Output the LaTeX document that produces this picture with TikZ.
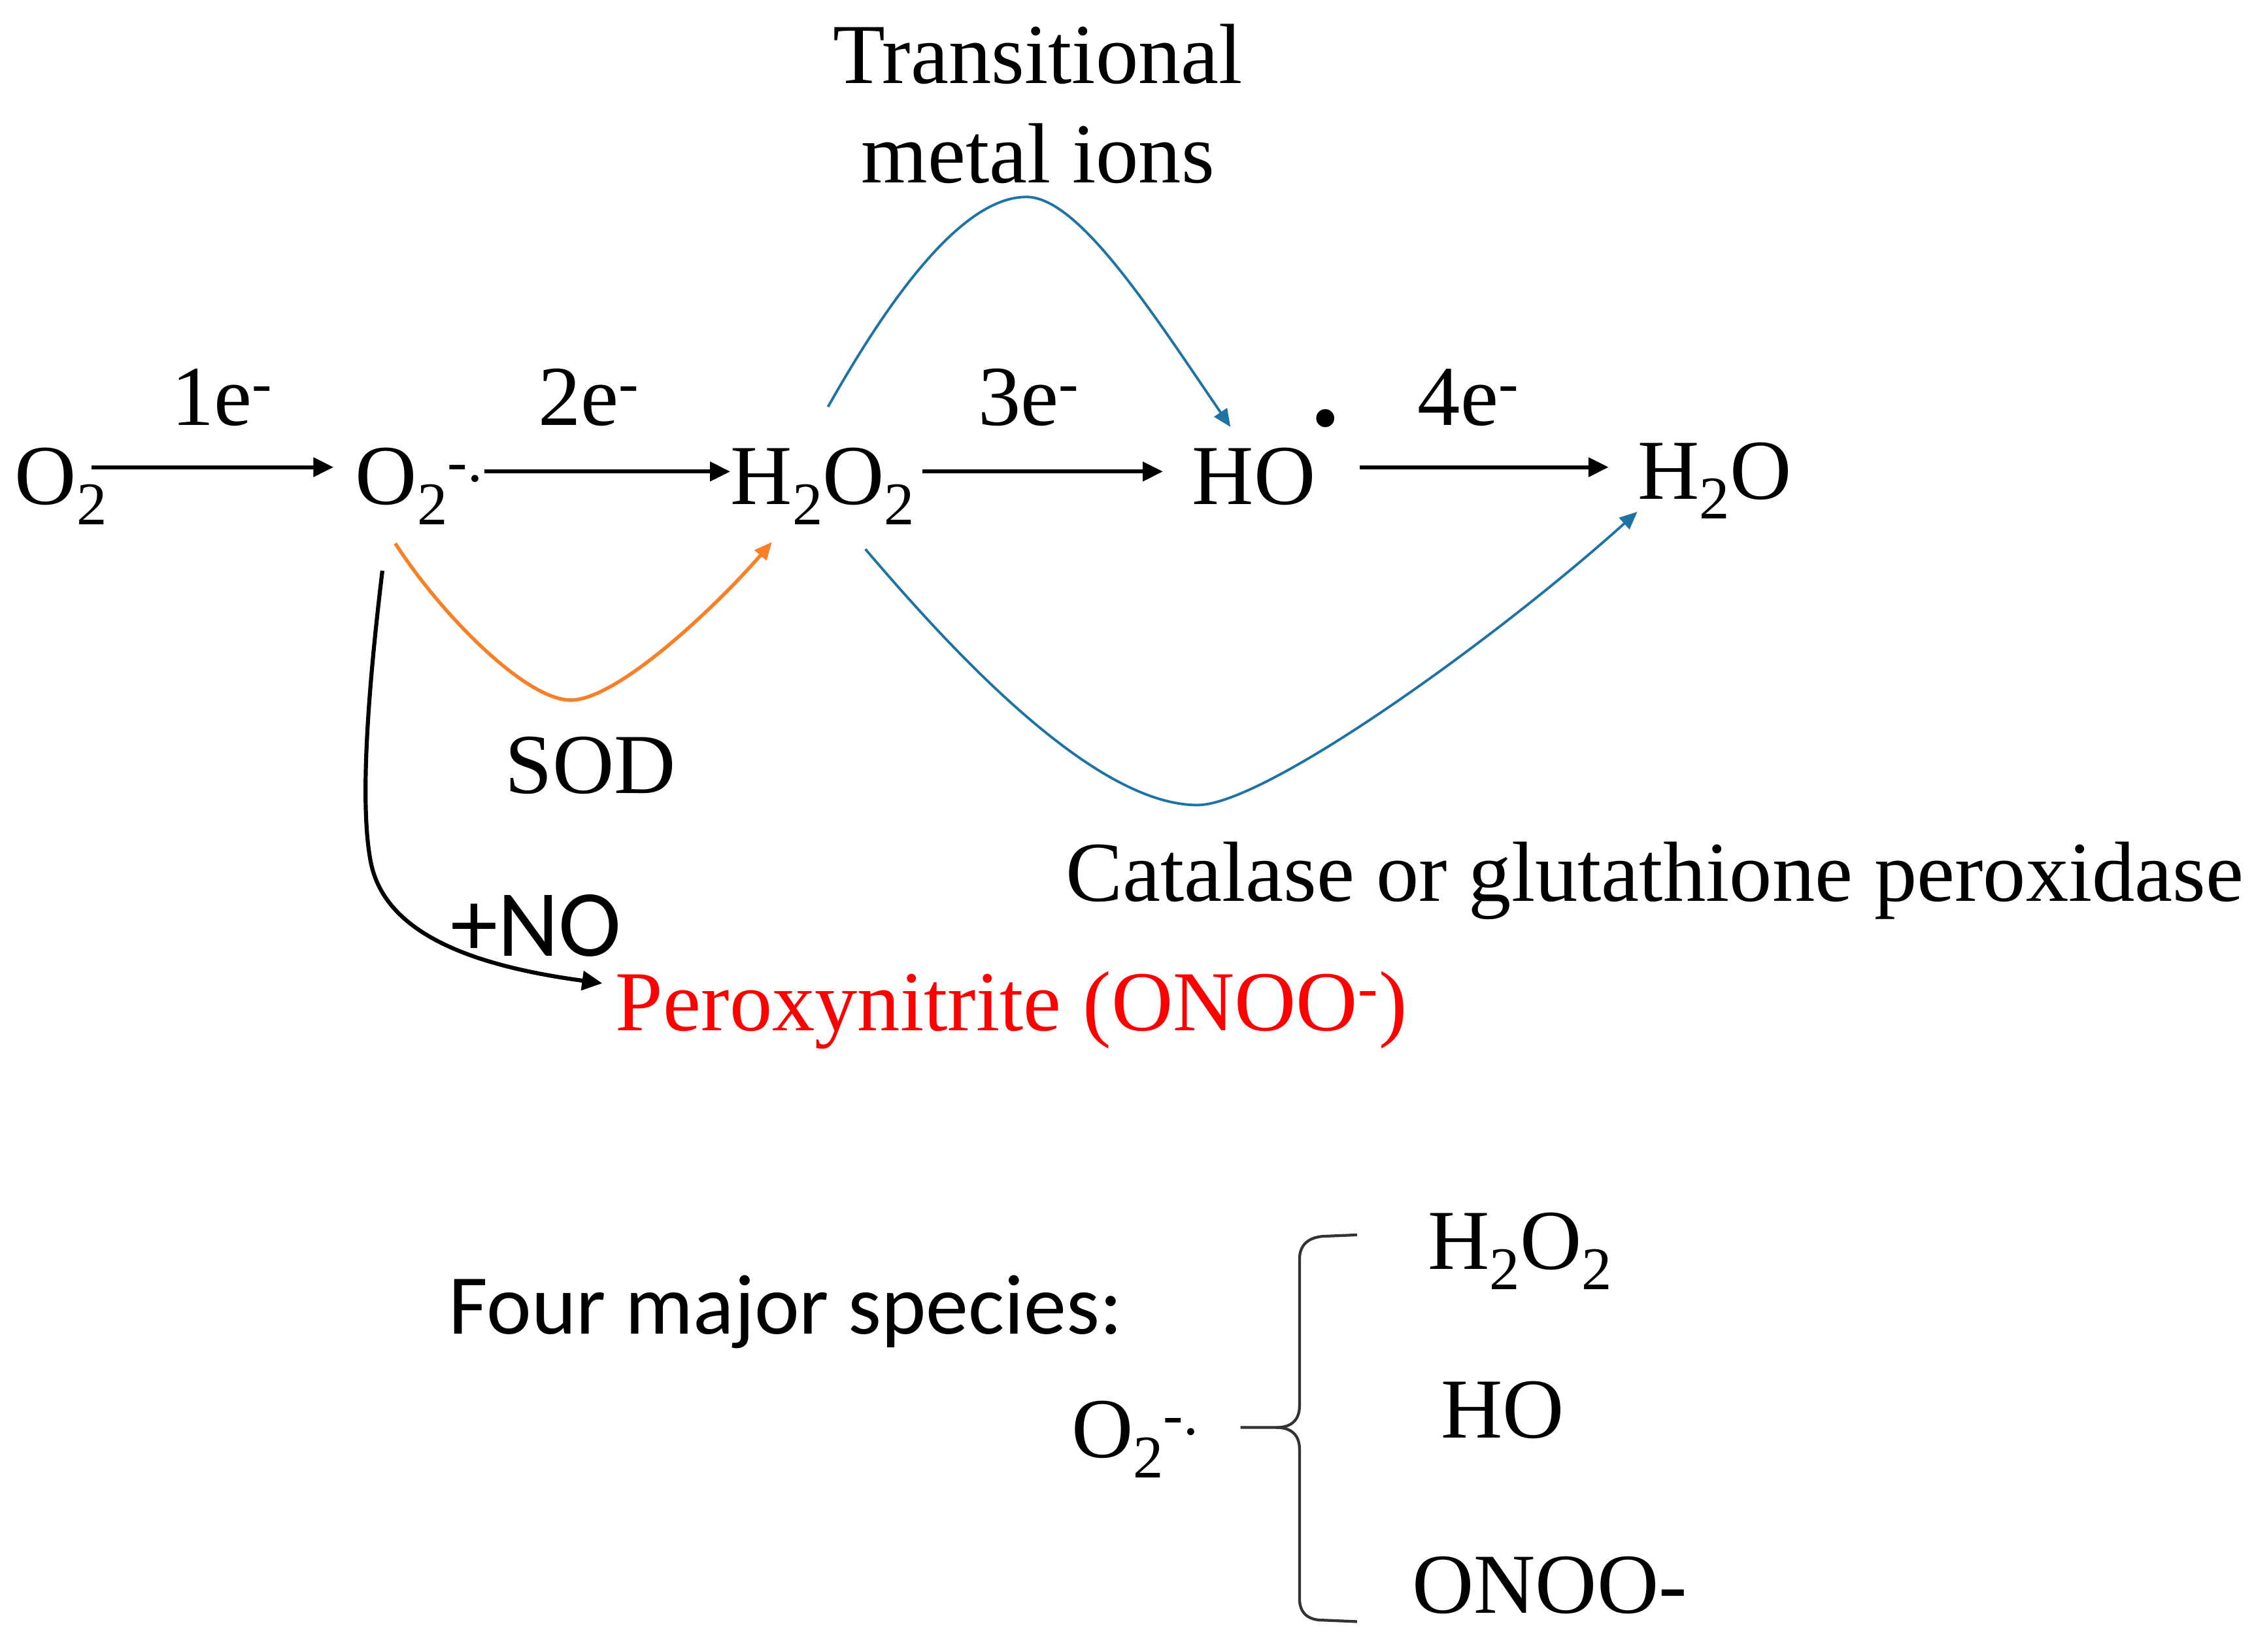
\documentclass[tikz,border=0pt]{standalone}
\usepackage{fontspec}
\setmainfont{Liberation Serif}
\newfontfamily\calibfont{Carlito}
\usetikzlibrary{arrows.meta}
\definecolor{tmblue}{RGB}{30,115,165}
\definecolor{sodorange}{RGB}{250,128,40}
\definecolor{pnred}{RGB}{255,0,0}
\definecolor{bracegray}{RGB}{50,50,50}
\newcommand{\sbt}[1]{\raisebox{-8pt}{\fontsize{24}{24}\selectfont #1}}
\begin{document}
\begin{tikzpicture}[x=0.02cm,y=-0.02cm,
  txt/.style={inner sep=0pt, anchor=base west, font=\fontsize{33.8}{40}\selectfont},
  sanstxt/.style={inner sep=0pt, anchor=base west, font=\calibfont\fontsize{33.7}{40}\selectfont},
  rxn/.style={line width=1.5pt, -{Triangle[length=8pt,width=7.5pt]}},
  bluearr/.style={tmblue, line width=1pt, -{Triangle[length=7pt,width=6pt]}},
  orangearr/.style={sodorange, line width=1.4pt, -{Triangle[length=7pt,width=6pt]}},
  blackarr/.style={line width=1.6pt, -{Triangle[length=8pt,width=7.5pt]}},
  bracestyle/.style={bracegray, line width=1.1pt}]
\path[use as bounding box] (0,0) rectangle (1568,1149);

% top label
\node[txt, anchor=base] (tm1) at (722,58) {Transitional};
\node[txt, anchor=base] (tm2) at (722,127) {metal ions};

% main row species
\node[txt] (o2a) at (10,351) {O\sbt{2}};
\node[txt] (o2b) at (247,351) {O\sbt{2}\textsuperscript{-.}};
\node[txt] (h2o2) at (508,351) {H\sbt{2}O\sbt{2}};
\node[txt] (ho) at (829,351) {HO};
\node[inner sep=0pt, font=\fontsize{44}{44}\selectfont\bfseries] (hodot) at (922,291) {.};
\node[txt] (h2o) at (1139,347) {H\sbt{2}O};

% electron labels
\node[txt] (e1) at (119,296) {1e\textsuperscript{-}};
\node[txt] (e2) at (374,296) {2e\textsuperscript{-}};
\node[txt] (e3) at (680,296) {3e\textsuperscript{-}};
\node[txt] (e4) at (986,296) {4e\textsuperscript{-}};

% row levels
\coordinate (rowa) at (0,325);
\coordinate (rowb) at (0,328);

% main arrows
\draw[rxn] ([xshift=-0.22cm]o2a.east |- rowa) -- ([xshift=-0.3cm]o2b.west |- rowa);
\draw[rxn] (o2b.east |- rowb) -- (h2o2.west |- rowb);
\draw[rxn] ([xshift=0.1cm]h2o2.east |- rowb) -- ([xshift=-0.4cm]ho.west |- rowb);
\draw[rxn] ([xshift=0.28cm]hodot.east |- rowa) -- ([xshift=-0.4cm]h2o.west |- rowa);

% side labels
\node[txt] (sod) at (351,552) {SOD};
\node[txt] (cat) at (741,627) {Catalase or glutathione peroxidase};
\node[sanstxt, font=\calibfont\fontsize{37.5}{40}\selectfont] (plusno) at (313,665) {+NO};
\node[txt, text=pnred] (perox) at (428,717) {Peroxynitrite (ONOO\textsuperscript{-})};

% curved pathways
\coordinate (tmstart) at (576,283);
\coordinate (tmend) at (856,297);
\draw[bluearr] (tmstart) .. controls (620,205) and (670,137) .. (714,137)
  .. controls (750,137) and (800,215) .. (tmend);

\coordinate (sodstart) at (275,378);
\coordinate (sodend) at (537,377);
\draw[orangearr] (sodstart) .. controls (305,425) and (365,487) .. (397,487)
  .. controls (430,487) and (500,420) .. (sodend);

\coordinate (catstart) at (602,382);
\coordinate (catend) at (1139,356);
\draw[bluearr] (catstart) .. controls (660,450) and (760,560) .. (833,560)
  .. controls (880,560) and (1040,445) .. (catend);

\coordinate (nostart) at (266,397);
\coordinate (noend) at (419,684);
\draw[blackarr] (nostart) .. controls (256,480) and (250,560) .. (258,600)
  .. controls (268,650) and (330,672) .. (noend);

% bottom summary
\node[sanstxt] (four) at (312,928) {Four major species:};
\node[txt] (o2c) at (745,1014) {O\sbt{2}\textsuperscript{-.}};
\node[txt] (sp1) at (993,883) {H\sbt{2}O\sbt{2}};
\node[txt] (sp2) at (1002,1000) {HO};
\node[txt] (sp3) at (982,1122) {ONOO-};

\coordinate (brstub) at (863,993);
\coordinate (brtop) at (944,859);
\coordinate (brbot) at (944,1128);
\draw[bracestyle] (brstub) -- (888,993) .. controls (898,993) and (904,988) .. (904,978)
  -- (904,876) .. controls (904,866) and (910,861) .. (920,860) -- (brtop);
\draw[bracestyle] (888,993) .. controls (898,993) and (904,998) .. (904,1008)
  -- (904,1112) .. controls (904,1122) and (910,1127) .. (920,1127) -- (brbot);
\end{tikzpicture}
\end{document}
